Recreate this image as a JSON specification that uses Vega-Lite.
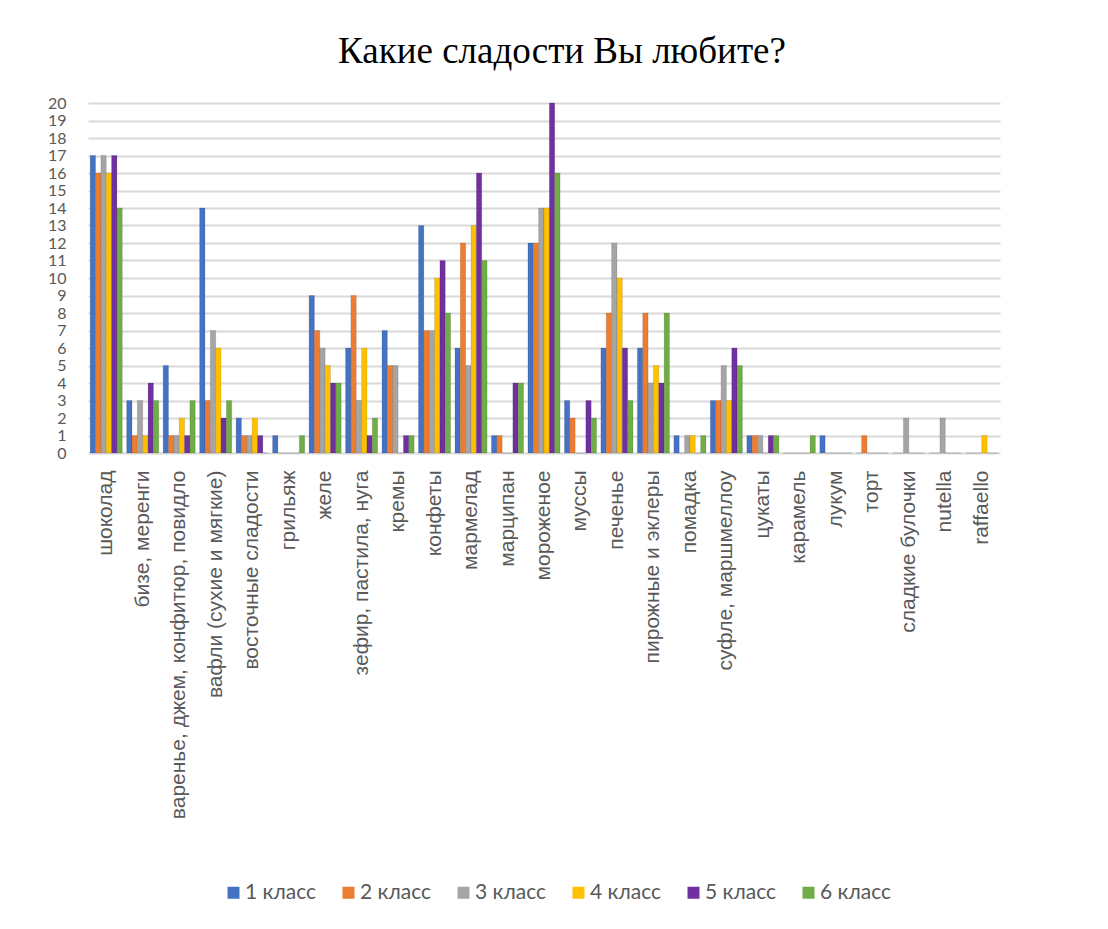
{
  "$schema": "https://vega.github.io/schema/vega-lite/v6.json",
  "width": 912,
  "height": 350,
  "autosize": {"type": "none"},
  "padding": {"left": 88, "top": 103, "right": 108, "bottom": 476},
  "background": "white",
  "title": {
    "text": "Какие сладости Вы любите?",
    "font": "Liberation Serif",
    "fontSize": 37,
    "fontWeight": "normal",
    "color": "#000000",
    "anchor": "middle",
    "offset": 24,
    "dx": 18
  },
  "data": {
    "values": [
      {"c": "шоколад", "g": "1 класс", "v": 17}, {"c": "шоколад", "g": "2 класс", "v": 16}, {"c": "шоколад", "g": "3 класс", "v": 17}, {"c": "шоколад", "g": "4 класс", "v": 16}, {"c": "шоколад", "g": "5 класс", "v": 17}, {"c": "шоколад", "g": "6 класс", "v": 14},
      {"c": "бизе, меренги", "g": "1 класс", "v": 3}, {"c": "бизе, меренги", "g": "2 класс", "v": 1}, {"c": "бизе, меренги", "g": "3 класс", "v": 3}, {"c": "бизе, меренги", "g": "4 класс", "v": 1}, {"c": "бизе, меренги", "g": "5 класс", "v": 4}, {"c": "бизе, меренги", "g": "6 класс", "v": 3},
      {"c": "варенье, джем, конфитюр, повидло", "g": "1 класс", "v": 5}, {"c": "варенье, джем, конфитюр, повидло", "g": "2 класс", "v": 1}, {"c": "варенье, джем, конфитюр, повидло", "g": "3 класс", "v": 1}, {"c": "варенье, джем, конфитюр, повидло", "g": "4 класс", "v": 2}, {"c": "варенье, джем, конфитюр, повидло", "g": "5 класс", "v": 1}, {"c": "варенье, джем, конфитюр, повидло", "g": "6 класс", "v": 3},
      {"c": "вафли (сухие и мягкие)", "g": "1 класс", "v": 14}, {"c": "вафли (сухие и мягкие)", "g": "2 класс", "v": 3}, {"c": "вафли (сухие и мягкие)", "g": "3 класс", "v": 7}, {"c": "вафли (сухие и мягкие)", "g": "4 класс", "v": 6}, {"c": "вафли (сухие и мягкие)", "g": "5 класс", "v": 2}, {"c": "вафли (сухие и мягкие)", "g": "6 класс", "v": 3},
      {"c": "восточные сладости", "g": "1 класс", "v": 2}, {"c": "восточные сладости", "g": "2 класс", "v": 1}, {"c": "восточные сладости", "g": "3 класс", "v": 1}, {"c": "восточные сладости", "g": "4 класс", "v": 2}, {"c": "восточные сладости", "g": "5 класс", "v": 1}, {"c": "восточные сладости", "g": "6 класс", "v": 0},
      {"c": "грильяж", "g": "1 класс", "v": 1}, {"c": "грильяж", "g": "2 класс", "v": 0}, {"c": "грильяж", "g": "3 класс", "v": 0}, {"c": "грильяж", "g": "4 класс", "v": 0}, {"c": "грильяж", "g": "5 класс", "v": 0}, {"c": "грильяж", "g": "6 класс", "v": 1},
      {"c": "желе", "g": "1 класс", "v": 9}, {"c": "желе", "g": "2 класс", "v": 7}, {"c": "желе", "g": "3 класс", "v": 6}, {"c": "желе", "g": "4 класс", "v": 5}, {"c": "желе", "g": "5 класс", "v": 4}, {"c": "желе", "g": "6 класс", "v": 4},
      {"c": "зефир, пастила, нуга", "g": "1 класс", "v": 6}, {"c": "зефир, пастила, нуга", "g": "2 класс", "v": 9}, {"c": "зефир, пастила, нуга", "g": "3 класс", "v": 3}, {"c": "зефир, пастила, нуга", "g": "4 класс", "v": 6}, {"c": "зефир, пастила, нуга", "g": "5 класс", "v": 1}, {"c": "зефир, пастила, нуга", "g": "6 класс", "v": 2},
      {"c": "кремы", "g": "1 класс", "v": 7}, {"c": "кремы", "g": "2 класс", "v": 5}, {"c": "кремы", "g": "3 класс", "v": 5}, {"c": "кремы", "g": "4 класс", "v": 0}, {"c": "кремы", "g": "5 класс", "v": 1}, {"c": "кремы", "g": "6 класс", "v": 1},
      {"c": "конфеты", "g": "1 класс", "v": 13}, {"c": "конфеты", "g": "2 класс", "v": 7}, {"c": "конфеты", "g": "3 класс", "v": 7}, {"c": "конфеты", "g": "4 класс", "v": 10}, {"c": "конфеты", "g": "5 класс", "v": 11}, {"c": "конфеты", "g": "6 класс", "v": 8},
      {"c": "мармелад", "g": "1 класс", "v": 6}, {"c": "мармелад", "g": "2 класс", "v": 12}, {"c": "мармелад", "g": "3 класс", "v": 5}, {"c": "мармелад", "g": "4 класс", "v": 13}, {"c": "мармелад", "g": "5 класс", "v": 16}, {"c": "мармелад", "g": "6 класс", "v": 11},
      {"c": "марципан", "g": "1 класс", "v": 1}, {"c": "марципан", "g": "2 класс", "v": 1}, {"c": "марципан", "g": "3 класс", "v": 0}, {"c": "марципан", "g": "4 класс", "v": 0}, {"c": "марципан", "g": "5 класс", "v": 4}, {"c": "марципан", "g": "6 класс", "v": 4},
      {"c": "мороженое", "g": "1 класс", "v": 12}, {"c": "мороженое", "g": "2 класс", "v": 12}, {"c": "мороженое", "g": "3 класс", "v": 14}, {"c": "мороженое", "g": "4 класс", "v": 14}, {"c": "мороженое", "g": "5 класс", "v": 20}, {"c": "мороженое", "g": "6 класс", "v": 16},
      {"c": "муссы", "g": "1 класс", "v": 3}, {"c": "муссы", "g": "2 класс", "v": 2}, {"c": "муссы", "g": "3 класс", "v": 0}, {"c": "муссы", "g": "4 класс", "v": 0}, {"c": "муссы", "g": "5 класс", "v": 3}, {"c": "муссы", "g": "6 класс", "v": 2},
      {"c": "печенье", "g": "1 класс", "v": 6}, {"c": "печенье", "g": "2 класс", "v": 8}, {"c": "печенье", "g": "3 класс", "v": 12}, {"c": "печенье", "g": "4 класс", "v": 10}, {"c": "печенье", "g": "5 класс", "v": 6}, {"c": "печенье", "g": "6 класс", "v": 3},
      {"c": "пирожные и эклеры", "g": "1 класс", "v": 6}, {"c": "пирожные и эклеры", "g": "2 класс", "v": 8}, {"c": "пирожные и эклеры", "g": "3 класс", "v": 4}, {"c": "пирожные и эклеры", "g": "4 класс", "v": 5}, {"c": "пирожные и эклеры", "g": "5 класс", "v": 4}, {"c": "пирожные и эклеры", "g": "6 класс", "v": 8},
      {"c": "помадка", "g": "1 класс", "v": 1}, {"c": "помадка", "g": "2 класс", "v": 0}, {"c": "помадка", "g": "3 класс", "v": 1}, {"c": "помадка", "g": "4 класс", "v": 1}, {"c": "помадка", "g": "5 класс", "v": 0}, {"c": "помадка", "g": "6 класс", "v": 1},
      {"c": "суфле, маршмеллоу", "g": "1 класс", "v": 3}, {"c": "суфле, маршмеллоу", "g": "2 класс", "v": 3}, {"c": "суфле, маршмеллоу", "g": "3 класс", "v": 5}, {"c": "суфле, маршмеллоу", "g": "4 класс", "v": 3}, {"c": "суфле, маршмеллоу", "g": "5 класс", "v": 6}, {"c": "суфле, маршмеллоу", "g": "6 класс", "v": 5},
      {"c": "цукаты", "g": "1 класс", "v": 1}, {"c": "цукаты", "g": "2 класс", "v": 1}, {"c": "цукаты", "g": "3 класс", "v": 1}, {"c": "цукаты", "g": "4 класс", "v": 0}, {"c": "цукаты", "g": "5 класс", "v": 1}, {"c": "цукаты", "g": "6 класс", "v": 1},
      {"c": "карамель", "g": "1 класс", "v": 0}, {"c": "карамель", "g": "2 класс", "v": 0}, {"c": "карамель", "g": "3 класс", "v": 0}, {"c": "карамель", "g": "4 класс", "v": 0}, {"c": "карамель", "g": "5 класс", "v": 0}, {"c": "карамель", "g": "6 класс", "v": 1},
      {"c": "лукум", "g": "1 класс", "v": 1}, {"c": "лукум", "g": "2 класс", "v": 0}, {"c": "лукум", "g": "3 класс", "v": 0}, {"c": "лукум", "g": "4 класс", "v": 0}, {"c": "лукум", "g": "5 класс", "v": 0}, {"c": "лукум", "g": "6 класс", "v": 0},
      {"c": "торт", "g": "1 класс", "v": 0}, {"c": "торт", "g": "2 класс", "v": 1}, {"c": "торт", "g": "3 класс", "v": 0}, {"c": "торт", "g": "4 класс", "v": 0}, {"c": "торт", "g": "5 класс", "v": 0}, {"c": "торт", "g": "6 класс", "v": 0},
      {"c": "сладкие булочки", "g": "1 класс", "v": 0}, {"c": "сладкие булочки", "g": "2 класс", "v": 0}, {"c": "сладкие булочки", "g": "3 класс", "v": 2}, {"c": "сладкие булочки", "g": "4 класс", "v": 0}, {"c": "сладкие булочки", "g": "5 класс", "v": 0}, {"c": "сладкие булочки", "g": "6 класс", "v": 0},
      {"c": "nutella", "g": "1 класс", "v": 0}, {"c": "nutella", "g": "2 класс", "v": 0}, {"c": "nutella", "g": "3 класс", "v": 2}, {"c": "nutella", "g": "4 класс", "v": 0}, {"c": "nutella", "g": "5 класс", "v": 0}, {"c": "nutella", "g": "6 класс", "v": 0},
      {"c": "raffaello", "g": "1 класс", "v": 0}, {"c": "raffaello", "g": "2 класс", "v": 0}, {"c": "raffaello", "g": "3 класс", "v": 0}, {"c": "raffaello", "g": "4 класс", "v": 1}, {"c": "raffaello", "g": "5 класс", "v": 0}, {"c": "raffaello", "g": "6 класс", "v": 0}
    ]
  },
  "mark": {"type": "bar", "strokeWidth": 0.6, "stroke": "#00000033"},
  "encoding": {
    "x": {
      "field": "c",
      "type": "nominal",
      "sort": null,
      "title": null,
      "scale": {"paddingInner": 0.12, "paddingOuter": 0.06},
      "axis": {
        "labelAngle": -90,
        "labelFont": "Liberation Sans",
        "labelFontSize": 21,
        "labelColor": "#595959",
        "labelPadding": 17,
        "labelLimit": 600,
        "labelOverlap": false,
        "ticks": false,
        "domain": false,
        "grid": false
      }
    },
    "xOffset": {"field": "g", "type": "nominal", "scale": {"paddingInner": 0, "paddingOuter": 0}},
    "y": {
      "field": "v",
      "type": "quantitative",
      "title": null,
      "scale": {"domain": [0, 20], "nice": false},
      "axis": {
        "values": [0, 1, 2, 3, 4, 5, 6, 7, 8, 9, 10, 11, 12, 13, 14, 15, 16, 17, 18, 19, 20],
        "labelOverlap": false,
        "labelFont": "Lato",
        "labelFontSize": 16,
        "labelColor": "#595959",
        "labelPadding": 22,
        "ticks": false,
        "domain": false,
        "gridColor": "#d9d9d9",
        "gridWidth": 2
      }
    },
    "color": {
      "field": "g",
      "type": "nominal",
      "title": null,
      "scale": {
        "domain": ["1 класс", "2 класс", "3 класс", "4 класс", "5 класс", "6 класс"],
        "range": ["#4472C4", "#ED7D31", "#A5A5A5", "#FFC000", "#7030A0", "#70AD47"]
      },
      "legend": {
        "orient": "none",
        "direction": "horizontal",
        "columns": 6,
        "legendX": 135,
        "legendY": 779,
        "symbolType": "square",
        "symbolSize": 144,
        "symbolStrokeWidth": 0,
        "symbolOffset": 0,
        "labelFont": "Lato",
        "labelFontSize": 21,
        "labelColor": "#595959",
        "labelOffset": 1,
        "columnPadding": 21
      }
    }
  },
  "config": {"view": {"stroke": null}}
}
